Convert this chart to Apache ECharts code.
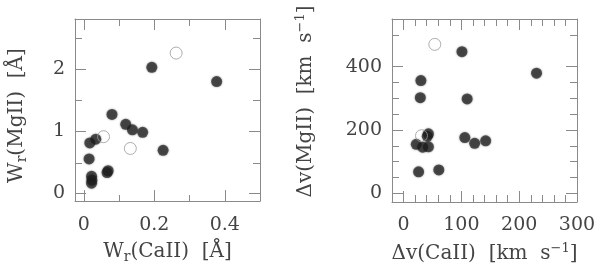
<!DOCTYPE html>
<html>
<head>
<meta charset="utf-8">
<script src="https://cdn.jsdelivr.net/npm/echarts@6/dist/echarts.min.js"></script>
<style>html,body{margin:0;padding:0;background:#fff}#c{width:600px;height:269px}</style>
</head>
<body>
<div id="c"></div>
<script>
// ---- data ----
var leftFilled = [[0.377,1.80],[0.193,2.03],[0.080,1.27],[0.119,1.11],[0.138,1.02],[0.167,0.98],[0.225,0.69],[0.034,0.87],[0.017,0.81],[0.015,0.55],[0.066,0.33],[0.069,0.36],[0.022,0.27],[0.023,0.21],[0.022,0.16]];
var leftOpen = [[0.262,2.26],[0.132,0.72],[0.056,0.91]];
var rightFilled = [[101,447],[230,379],[30,356],[29,302],[110,298],[41,180],[43,188],[22,155],[33,146],[43,147],[106,176],[123,158],[142,166],[26,68],[61,74]];
var rightOpen = [[54,470],[31,182]];
var leftXMajor = [0,0.2,0.4], leftXMinor = [0.1,0.3];
var leftYMajor = [0,1,2], leftYMinor = [0.5,1.5,2.5];
var rightXMajor = [0,100,200,300], rightXMinor = [20,40,60,80,120,140,160,180,220,240,260,280];
var rightYMajor = [0,200,400], rightYMinor = [50,100,150,250,300,350,500];
var rightYLabels = [0,200,400];

var FONT = 'DejaVu Serif';
var LINE = '#8a8a8a';
var TXT = '#444';

var rectL = {left:75, top:19, width:185, height:183};
var rectR = {left:392, top:19, width:185, height:183};

var grids = [rectL, rectL, rectR, rectR];
var xAxes = [], yAxes = [];
function fmt(v){ return String(Math.round(v*1000)/1000); }
function ax(type, gi, pos, min, max, ticks, len, showLine, labels, name, nameGap, rich, namePad){
  var a = {
    type:'value', gridIndex:gi, position:pos, min:min, max:max,
    splitLine:{show:false},
    axisLine:{show:showLine, onZero:false, lineStyle:{color:LINE, width:1}},
    axisTick:{show:true, inside:true, length:len, customValues:ticks, lineStyle:{color:LINE, width:1}},
    axisLabel:{show:!!labels, customValues:labels||[], formatter:fmt, color:TXT, fontFamily:FONT, fontSize:19, margin:(type==='x'?14:10)},
    silent:true
  };
  if (name){
    a.name = name; a.nameLocation='middle'; a.nameGap=nameGap;
    a.nameTextStyle = {color:TXT, fontFamily:FONT, fontSize:20, rich:rich};
    if (namePad) a.nameTextStyle.padding = namePad;
  }
  (type==='x'?xAxes:yAxes).push(a);
}
var richSub = {
  m:{fontFamily:FONT, fontSize:20, color:TXT, lineHeight:22, verticalAlign:'top'},
  s:{fontFamily:FONT, fontSize:14, color:TXT, lineHeight:14, padding:[11,0,0,0], verticalAlign:'bottom'}
};
var richSup = {
  m:{fontFamily:FONT, fontSize:20, color:TXT, lineHeight:22, padding:[4,0,0,0], verticalAlign:'bottom'},
  p:{fontFamily:FONT, fontSize:13, color:TXT, lineHeight:14, verticalAlign:'top'}
};
// grid 0: left major
ax('x',0,'bottom',-0.025,0.5,leftXMajor,11,true,leftXMajor,'{m|W}{s|r}{m|(CaII)  [Å]}',40,richSub);
ax('x',0,'top',-0.025,0.5,leftXMajor,11,true,null);
ax('y',0,'left',-0.13,2.81,leftYMajor,11,true,leftYMajor,'{m|W}{s|r}{m|(MgII)  [Å]}',46,richSub,[0,11,0,0]);
ax('y',0,'right',-0.13,2.81,leftYMajor,11,true,null);
// grid 1: left minor
ax('x',1,'bottom',-0.025,0.5,leftXMinor,7,false,null);
ax('x',1,'top',-0.025,0.5,leftXMinor,7,false,null);
ax('y',1,'left',-0.13,2.81,leftYMinor,7,false,null);
ax('y',1,'right',-0.13,2.81,leftYMinor,7,false,null);
// grid 2: right major
ax('x',2,'bottom',-20,300,rightXMajor,11,true,rightXMajor,'{m|Δv(CaII)  [km  s}{p|−1}{m|]}',37,richSup);
ax('x',2,'top',-20,300,rightXMajor,11,true,null);
ax('y',2,'left',-27,550,rightYMajor,11,true,rightYLabels,'{m|Δv(MgII)  [km  s}{p|−1}{m|]}',76,richSup,[0,0,0,18]);
ax('y',2,'right',-27,550,rightYMajor,11,true,null);
// grid 3: right minor
ax('x',3,'bottom',-20,300,rightXMinor,7,false,null);
ax('x',3,'top',-20,300,rightXMinor,7,false,null);
ax('y',3,'left',-27,550,rightYMinor,7,false,null);
ax('y',3,'right',-27,550,rightYMinor,7,false,null);

var filledStyle = {color:'rgba(28,28,28,0.86)', shadowBlur:2, shadowColor:'rgba(28,28,28,0.7)'};
var openStyle = {color:'rgba(255,255,255,0)', borderColor:'#9a9a9a', borderWidth:1};
var series = [
  {type:'scatter', xAxisIndex:0, yAxisIndex:0, data:leftFilled, symbolSize:11, itemStyle:filledStyle, silent:true},
  {type:'scatter', xAxisIndex:0, yAxisIndex:0, data:leftOpen, symbolSize:12, itemStyle:openStyle, silent:true},
  {type:'scatter', xAxisIndex:4, yAxisIndex:4, data:rightFilled, symbolSize:11, itemStyle:filledStyle, silent:true},
  {type:'scatter', xAxisIndex:4, yAxisIndex:4, data:rightOpen, symbolSize:12, itemStyle:openStyle, silent:true}
];
var chart = echarts.init(document.getElementById('c'), null, {renderer:'canvas'});
chart.setOption({
  animation:false,
  backgroundColor:'#fff',
  grid: grids.map(function(r){ return {left:r.left, top:r.top, width:r.width, height:r.height, containLabel:false}; }),
  xAxis:xAxes, yAxis:yAxes, series:series
});
</script>
</body>
</html>
